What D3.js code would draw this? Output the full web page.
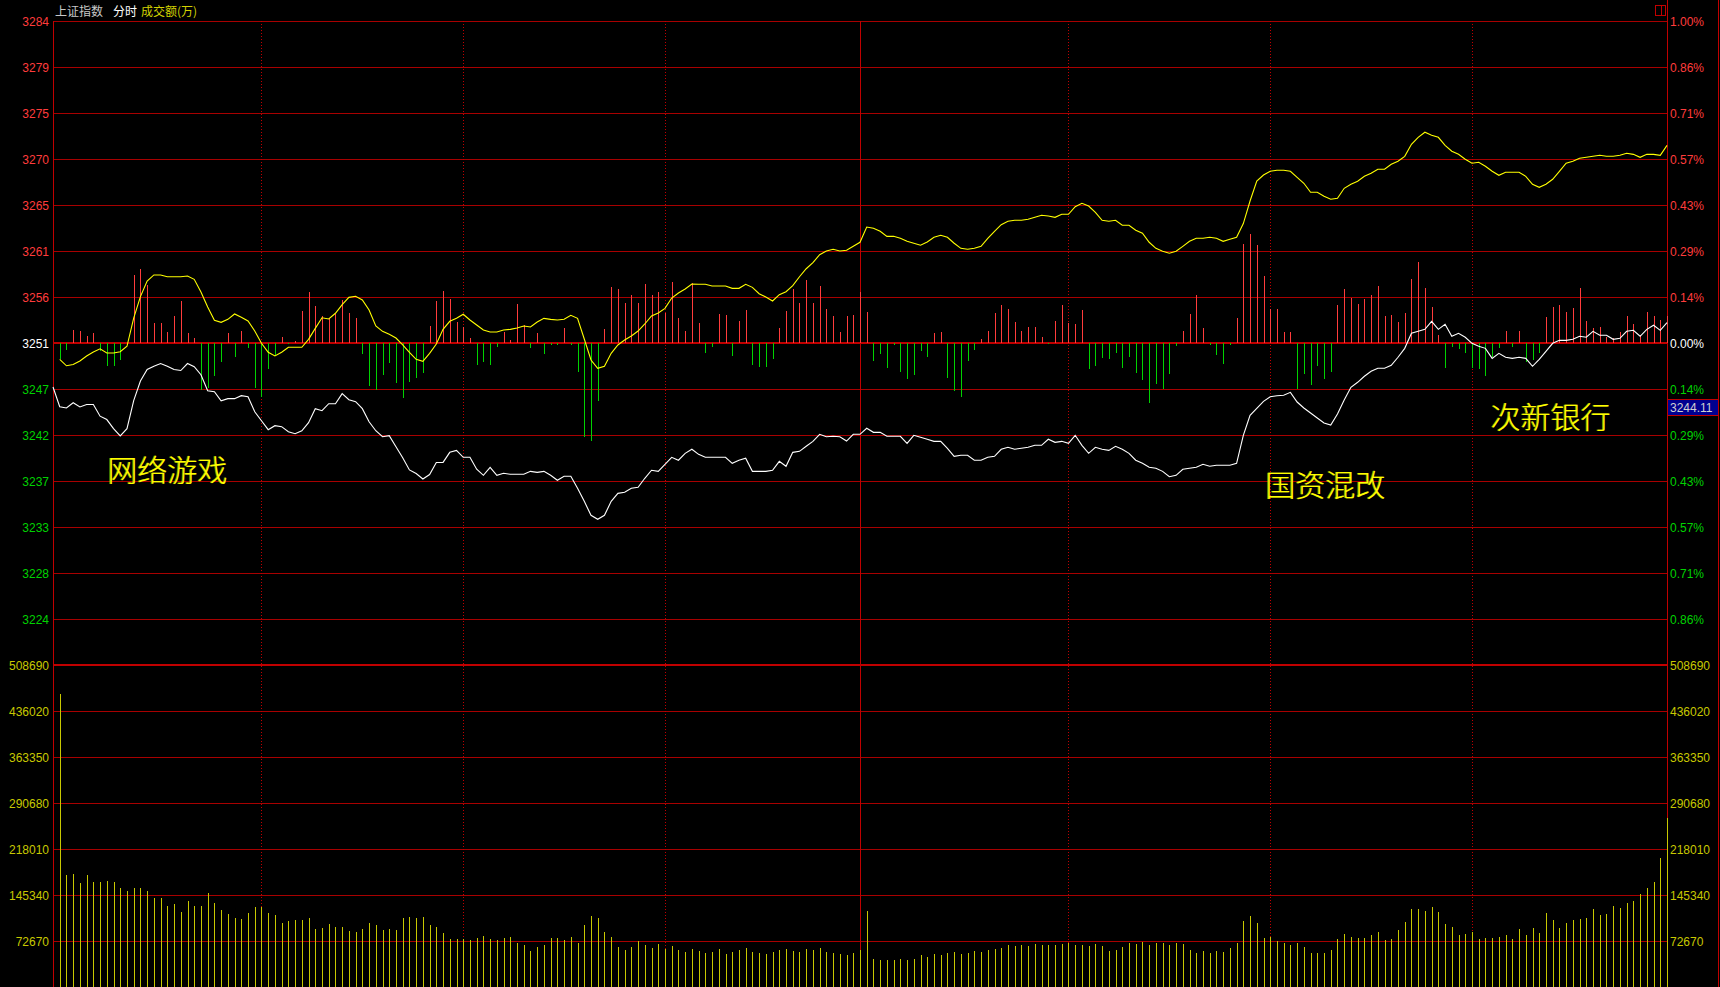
<!DOCTYPE html>
<html><head><meta charset="utf-8">
<script src="https://cdn.jsdelivr.net/npm/d3@7"></script>
<style>html,body{margin:0;padding:0;background:#000;overflow:hidden}svg{display:block}</style>
</head><body><svg id="c" width="1720" height="987"></svg>
<script>
// ---------------- data ----------------
const prevClose = 3251.4;
const priceTickLabels = ["3284","3279","3275","3270","3265","3261","3256","3251","3247","3242","3237","3233","3228","3224"];
const pctTickLabels = ["1.00%","0.86%","0.71%","0.57%","0.43%","0.29%","0.14%","0.00%","0.14%","0.29%","0.43%","0.57%","0.71%","0.86%"];
const volTickValues = [508690,436020,363350,290680,218010,145340,72670];
const timeGridIdx = [30,60,90,150,180,210];
const sessionBreakIdx = 119;
const whiteOpen = 3246.96;
const whiteLine = [
3244.97,3244.84,3245.37,3244.94,3245.19,3245.19,3244.01,3243.67,3242.75,3242.01,
3242.75,3245.59,3247.56,3248.72,3249.06,3249.33,3249.06,3248.72,3248.62,3249.33,
3249.01,3248.20,3246.58,3246.48,3245.57,3245.78,3245.78,3246.08,3245.98,3244.46,
3243.55,3242.65,3243.05,3242.95,3242.44,3242.24,3242.54,3243.35,3244.77,3244.56,
3245.27,3245.27,3246.28,3245.67,3245.47,3244.77,3243.45,3242.54,3241.94,3242.04,
3240.93,3239.82,3238.58,3238.22,3237.67,3238.12,3239.33,3239.35,3240.36,3240.56,
3239.86,3239.86,3238.65,3238.04,3238.85,3238.04,3238.24,3238.14,3238.14,3238.14,
3238.44,3238.34,3238.44,3238.04,3237.54,3237.94,3237.94,3236.73,3235.41,3234.00,
3233.60,3234.00,3235.41,3236.22,3236.32,3236.73,3236.83,3237.74,3238.55,3238.44,
3239.15,3239.86,3239.56,3240.26,3240.67,3240.16,3239.86,3239.86,3239.86,3239.86,
3239.25,3239.56,3239.76,3238.44,3238.44,3238.44,3238.55,3239.45,3238.95,3240.36,
3240.46,3240.97,3241.47,3242.18,3241.93,3241.98,3241.93,3241.50,3242.18,3242.18,
3242.79,3242.38,3242.38,3241.98,3241.98,3241.98,3241.27,3242.08,3241.88,3241.68,
3241.47,3241.47,3240.77,3239.96,3240.06,3240.06,3239.56,3239.56,3239.86,3239.96,
3240.67,3240.87,3240.67,3240.77,3240.87,3241.07,3241.07,3241.68,3241.37,3241.47,
3241.27,3242.08,3241.07,3240.26,3240.87,3240.67,3240.56,3240.97,3240.67,3240.26,
3239.56,3239.25,3238.85,3238.75,3238.44,3237.90,3238.04,3238.65,3238.75,3238.85,
3239.15,3238.95,3239.05,3239.05,3239.05,3239.25,3242.08,3244.10,3244.81,3245.51,
3245.97,3246.08,3246.12,3246.42,3245.44,3244.84,3244.33,3243.83,3243.32,3243.12,
3244.23,3245.64,3246.93,3247.43,3248.04,3248.54,3248.85,3248.85,3249.15,3249.96,
3250.86,3252.38,3252.58,3252.78,3253.59,3252.78,3253.29,3252.08,3252.38,3251.98,
3251.37,3251.07,3250.86,3249.85,3250.36,3249.96,3249.85,3249.96,3249.85,3249.05,
3249.75,3250.56,3251.37,3251.67,3251.67,3251.77,3252.08,3251.98,3252.58,3252.18,
3252.18,3251.77,3251.87,3252.58,3252.68,3252.08,3252.78,3253.19,3252.68,3253.45];
const yellowLine = [
3249.75,3249.10,3249.22,3249.58,3250.09,3250.49,3250.81,3250.39,3250.39,3250.52,
3251.07,3253.92,3256.08,3257.66,3258.27,3258.27,3258.09,3258.09,3258.09,3258.17,
3257.83,3256.55,3255.04,3253.69,3253.49,3253.79,3254.33,3254.00,3253.62,3252.61,
3251.37,3250.46,3250.09,3250.46,3250.97,3250.97,3250.97,3251.77,3252.88,3253.95,
3253.82,3254.40,3255.27,3256.01,3256.12,3255.74,3254.73,3253.12,3252.58,3252.28,
3251.90,3251.20,3250.46,3249.75,3249.55,3250.36,3251.30,3252.78,3253.59,3253.89,
3254.30,3253.72,3253.22,3252.71,3252.51,3252.51,3252.71,3252.78,3252.91,3253.12,
3253.02,3253.52,3253.89,3253.79,3253.72,3253.79,3254.20,3253.89,3251.80,3249.68,
3248.85,3249.05,3250.36,3251.20,3251.70,3252.11,3252.61,3253.32,3254.13,3254.43,
3254.90,3255.94,3256.45,3256.85,3257.36,3257.33,3257.33,3257.16,3257.16,3257.16,
3256.92,3256.92,3257.33,3257.02,3256.38,3256.05,3255.64,3256.28,3256.58,3257.19,
3258.09,3258.90,3259.51,3260.32,3260.69,3260.86,3260.69,3260.76,3261.16,3261.57,
3263.11,3262.98,3262.68,3262.17,3262.17,3261.97,3261.67,3261.47,3261.27,3261.60,
3262.07,3262.28,3262.07,3261.47,3260.96,3260.86,3260.96,3261.16,3261.97,3262.68,
3263.35,3263.69,3263.79,3263.79,3263.89,3264.09,3264.30,3264.22,3264.09,3264.40,
3264.40,3265.16,3265.51,3265.23,3264.60,3263.79,3263.69,3263.79,3263.29,3263.29,
3262.78,3262.48,3261.57,3260.96,3260.66,3260.46,3260.66,3261.16,3261.67,3261.97,
3261.97,3262.07,3261.97,3261.67,3261.87,3262.07,3263.46,3265.74,3267.76,3268.36,
3268.74,3268.84,3268.84,3268.74,3268.13,3267.53,3266.62,3266.62,3266.21,3265.91,
3266.01,3267.02,3267.43,3267.73,3268.23,3268.54,3268.94,3268.94,3269.45,3269.75,
3270.25,3271.46,3272.17,3272.68,3272.37,3272.17,3271.36,3270.76,3270.45,3269.95,
3269.55,3269.65,3269.24,3268.74,3268.33,3268.64,3268.64,3268.64,3268.23,3267.43,
3267.12,3267.43,3267.93,3268.74,3269.55,3269.75,3270.05,3270.15,3270.25,3270.35,
3270.25,3270.25,3270.35,3270.56,3270.45,3270.15,3270.45,3270.45,3270.35,3271.36];
// buying-power bars (red > 0, green < 0), indicator units
const powerBars = [
-16,-6.5,13.5,12.5,7.5,9.7,-8,-22.5,-23,-17,
0,67.7,73.7,57.7,19.7,19.7,10.7,26.7,41.7,9.7,
4.7,-47,-45.3,-33,-19.3,10,-14,11.7,-5.3,-45,
-54,-26,-12.3,5.7,-1,2.3,31.7,50.7,36.7,26.7,
24.7,28.7,42.7,29.7,24.7,-11,-43,-47,-32,-20,
-40,-55,-39,-35,-30,16.7,42,52,43.7,20.7,
16,4.7,-22,-19,-22,-4,10.7,2.7,38.7,18.3,
-5.3,9.7,-11,-2,-2,14.7,-2,-29,-94,-98,
-58,13.7,55.7,53.7,39.7,47.7,39.7,58.7,47.7,50.7,
29.7,60.7,24.7,11.7,59.7,19.7,-10,-4,28.7,27.7,
-13,21.7,32.7,-22,-24,-24,-16,14.7,31.7,53.7,
39.7,62.7,39.7,56.7,33.7,26.7,10.7,26.7,27.7,50.7,
30.7,-18,-11,-25,-2,-29,-36,-32,-8,-14,
9.7,10.7,-35,-48,-54,-18,-7,3.7,11.7,29.7,
37.7,33.7,20.7,11.7,15.7,15.7,5.7,-1,21.7,37.7,
19.7,18.7,32.7,-26,-23,-15,-16,-10,-25,-14,
-30,-37,-60,-41,-46,-31,-3,11.7,28.7,47.7,
14.7,-2,-12,-21,-2,24.7,98.7,108.7,97.7,66.7,
34.3,33.7,10.7,10.7,-46,-31,-42,-23,-36,-29,
37.7,53.7,44.7,38.7,43.7,47.7,56.7,26.7,27.7,20.7,
29.7,63.7,80.7,54.7,35.7,7.7,-25,-4,-6,-10,
-25,-26,-33,-14,-5,11.7,-4,11.7,-19,-17,
-10,25.7,35.7,37.7,30.7,34.7,54.7,21.7,14.7,15.7,
5.7,4.7,10.7,26.7,18.7,7.7,30.7,26.7,22.7,26.7];
// turnover per minute (万)
const volume = [
462880,176900,178500,164300,176900,165900,165900,167500,165900,156400,
151700,156400,156400,151700,140600,140600,128000,131100,118500,135900,
128000,128000,148500,132700,121700,115300,109000,107400,116900,126400,
126400,116900,113800,101100,104300,105900,105900,109000,91600,93200,
99500,94800,94800,88500,86900,91600,101100,98000,90100,91600,
90100,109000,110600,109000,110600,98000,94800,85300,75800,75800,
75800,74300,77400,80600,75800,74300,77400,79000,69500,66400,
56900,63200,66400,77400,77400,74300,79000,69500,98000,112200,
109000,86900,79000,63200,58500,63200,72700,66000,62000,68000,
60000,64000,58000,55000,60000,57000,54000,56000,60000,52000,
55000,58000,62000,56000,53000,52000,55000,58000,60000,57000,
55000,60000,58000,62000,56000,54000,52000,50000,54000,58000,
120000,44000,42000,43000,42000,44000,43000,45000,50000,48000,
52000,50000,53000,55000,52000,54000,57000,55000,58000,60000,
62000,66000,64000,66000,65000,68000,66000,67000,66000,68000,
70000,66000,67000,65000,68000,64800,56900,58500,63200,69500,
67900,71100,66400,69500,69500,66400,69500,67900,58500,53700,
56900,53700,56900,55300,61600,69500,104300,112200,101100,77400,
79000,72700,69500,66400,69500,63200,53700,53700,53700,58500,
75800,83700,79000,77400,77400,82200,86900,74300,75800,90100,
102700,123200,123200,120100,126400,118500,99500,94800,82200,83700,
86900,75800,77400,77400,79000,82200,75800,91600,82200,93200,
85300,116900,105900,93200,101100,105900,107400,109000,123200,113800,
115300,128000,124800,132700,135900,146900,156400,165900,203800,266500];
const annotations = [
  {text:"网络游戏", k:7.1, price:3237.5},
  {text:"国资混改", k:179.3, price:3236.0},
  {text:"次新银行", k:212.8, price:3242.8}
];
const cursorLabel = "3244.11";
const cursorLevel = 3244.94;

// ---------------- drawing ----------------
const svg = d3.select("#c");
const L = 53, R = 1667, TOP = 21, MID = 665, BOT = 987;
const x = d3.scaleLinear().domain([-1, 239]).range([L, R]);
const yPct = d3.scaleLinear().domain([-1, 1]).range([MID, TOP]);
const yPrice = d3.scaleLinear().domain([prevClose*0.99, prevClose*1.01]).range([MID, TOP]);
const yBar = d3.scaleLinear().domain([-322, 322]).range([MID, TOP]);
const yVol = d3.scaleLinear().domain([0, volTickValues[0]]).range([BOT, MID]);
const px = v => Math.round(v) + 0.5;

const GRID = "#a80000", RED = "#ff3c3c", GREEN = "#00d200", VOLC = "#c8c800";
const FONT = "'Liberation Sans', Arial, sans-serif";

svg.append("rect").attr("width",1720).attr("height",987).attr("fill","#000");

const g = svg.append("g");
const pctLevels = d3.range(7, -7, -1).map(j => j/7);
g.selectAll(".pg").data(pctLevels).join("line")
  .attr("x1", L).attr("x2", R)
  .attr("y1", d => d===0 ? Math.round(yPct(d)) : px(yPct(d)))
  .attr("y2", d => d===0 ? Math.round(yPct(d)) : px(yPct(d)))
  .attr("stroke", d => d===0 ? "#c00000" : GRID)
  .attr("stroke-width", d => d===0 ? 2 : 1);
g.selectAll(".vg").data(volTickValues).join("line")
  .attr("x1", L).attr("x2", R)
  .attr("y1", (d,i) => i===0 ? Math.round(yVol(d)) : px(yVol(d)))
  .attr("y2", (d,i) => i===0 ? Math.round(yVol(d)) : px(yVol(d)))
  .attr("stroke", (d,i) => i===0 ? "#c00000" : GRID)
  .attr("stroke-width", (d,i) => i===0 ? 2 : 1);
g.selectAll(".tg").data(timeGridIdx).join("line")
  .attr("x1", d => px(x(d))).attr("x2", d => px(x(d)))
  .attr("y1", TOP).attr("y2", BOT)
  .attr("stroke", "#c00000").attr("stroke-width", 1).attr("stroke-dasharray", "1,2");
g.append("line").attr("x1", px(x(sessionBreakIdx))).attr("x2", px(x(sessionBreakIdx)))
  .attr("y1", TOP).attr("y2", BOT).attr("stroke", "#c00000");
g.append("line").attr("x1", px(L)).attr("x2", px(L)).attr("y1", TOP).attr("y2", BOT).attr("stroke", "#c00000");
g.append("line").attr("x1", px(R)).attr("x2", px(R)).attr("y1", 0).attr("y2", BOT).attr("stroke", "#c00000");
g.append("line").attr("x1", 1718.5).attr("x2", 1718.5).attr("y1", 0).attr("y2", BOT).attr("stroke", "#c00000");

// power bars
const zeroY = Math.round(yBar(0));
svg.append("g").selectAll("line").data(powerBars).join("line")
  .attr("x1", (d,i) => px(x(i))).attr("x2", (d,i) => px(x(i)))
  .attr("y1", zeroY).attr("y2", d => Math.round(yBar(d)))
  .attr("stroke", d => d >= 0 ? RED : GREEN).attr("stroke-width", 1)
  .attr("shape-rendering","crispEdges");

// volume bars
svg.append("g").selectAll("line").data(volume).join("line")
  .attr("x1", (d,i) => px(x(i))).attr("x2", (d,i) => px(x(i)))
  .attr("y1", BOT).attr("y2", d => Math.round(yVol(d)))
  .attr("stroke", VOLC).attr("stroke-width", 1).attr("shape-rendering","crispEdges");

// lines
const line = d3.line().x(d => x(d.k)).y(d => yPrice(d.v));
const yellowPts = yellowLine.map((v,i) => ({k:i, v}));
const whitePts = [{k:-1, v:whiteOpen}].concat(whiteLine.map((v,i) => ({k:i, v})));
svg.append("path").attr("d", line(yellowPts)).attr("fill","none").attr("stroke","#ffff00").attr("stroke-width",1.1);
svg.append("path").attr("d", line(whitePts)).attr("fill","none").attr("stroke","#ffffff").attr("stroke-width",1.1);

// labels
const lab = svg.append("g").attr("font-family", FONT).attr("font-size", 12);
lab.selectAll(".pl").data(priceTickLabels).join("text")
  .attr("x", 49).attr("y", (d,i) => yPct(pctLevels[i]) + 4.5)
  .attr("text-anchor","end")
  .attr("fill", (d,i) => pctLevels[i] > 0 ? RED : (pctLevels[i] === 0 ? "#ffffff" : GREEN))
  .text(d => d);
lab.selectAll(".pr").data(pctTickLabels).join("text")
  .attr("x", 1670).attr("y", (d,i) => yPct(pctLevels[i]) + 4.5)
  .attr("fill", (d,i) => pctLevels[i] > 0 ? RED : (pctLevels[i] === 0 ? "#ffffff" : GREEN))
  .text(d => d);
lab.selectAll(".vl").data(volTickValues).join("text")
  .attr("x", 49).attr("y", d => yVol(d) + 4.5).attr("text-anchor","end")
  .attr("fill", VOLC).text(d => d);
lab.selectAll(".vr").data(volTickValues).join("text")
  .attr("x", 1670).attr("y", d => yVol(d) + 4.5)
  .attr("fill", VOLC).text(d => d);

// cursor value box
const cy = Math.round(yPrice(cursorLevel));
svg.append("rect").attr("x", 1667.5).attr("y", cy - 8 + 0.5).attr("width", 51).attr("height", 16)
  .attr("fill", "#000090").attr("stroke", "#c00000");
svg.append("text").attr("x", 1670).attr("y", cy + 4.5).attr("font-family", FONT).attr("font-size", 12)
  .attr("fill", "#d0d0d0").text(cursorLabel);

// title
const CJK = "'Noto Sans CJK SC', sans-serif";
const title = svg.append("text").attr("x", 55).attr("y", 16).attr("font-family", CJK).attr("font-size", 12);
title.append("tspan").attr("fill", "#c8c8c8").text("上证指数");
title.append("tspan").attr("dx", 10).attr("fill", "#ffffff").text("分时");
title.append("tspan").attr("dx", 4).attr("fill", "#d2d200").text("成交额(万)");

// icon top-right
svg.append("rect").attr("x", 1655.5).attr("y", 5.5).attr("width", 10).attr("height", 10).attr("fill","none").attr("stroke","#c00000");
svg.append("line").attr("x1", 1661.5).attr("x2", 1661.5).attr("y1", 5.5).attr("y2", 15.5).attr("stroke","#c00000");

// annotations
const an = svg.append("g").attr("font-family", CJK).attr("font-size", 30).attr("font-weight", 300);
an.selectAll(".s").data(annotations).join("text")
  .attr("x", d => x(d.k) - 1).attr("y", d => yPrice(d.price)).attr("fill", "#9a9a00").text(d => d.text);
an.selectAll(".t").data(annotations).join("text")
  .attr("x", d => x(d.k)).attr("y", d => yPrice(d.price)).attr("fill", "#ffff00").text(d => d.text);
</script></body></html>
